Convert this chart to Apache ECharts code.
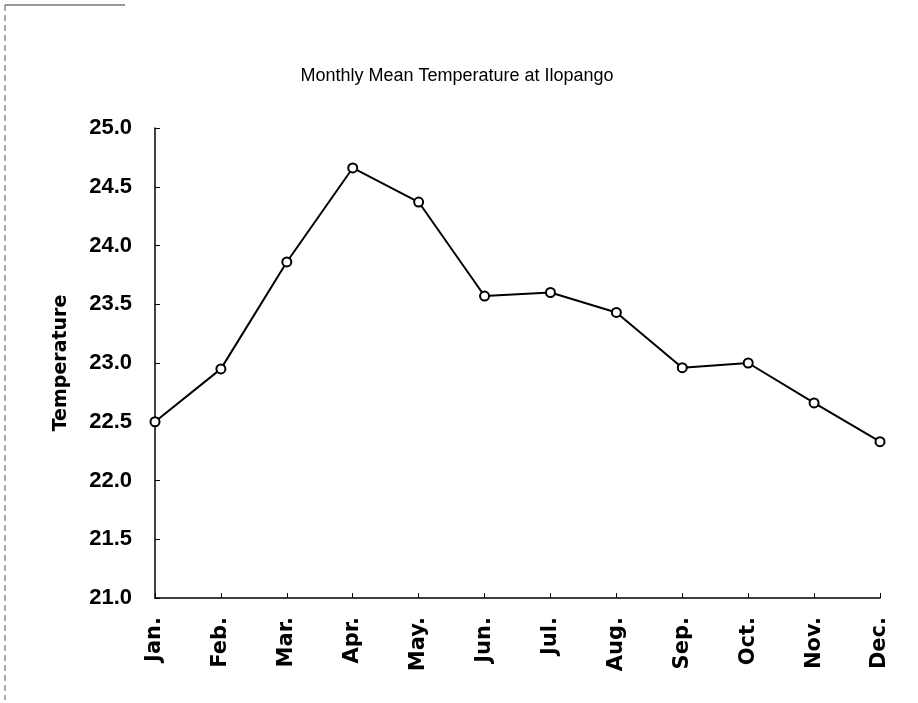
<!DOCTYPE html>
<html>
<head>
  <meta charset="utf-8">
  <title>Monthly Mean Temperature at Ilopango</title>
  <script src="https://cdn.jsdelivr.net/npm/echarts@6/dist/echarts.min.js"></script>
  <style>
    html, body { margin: 0; padding: 0; background: #fff; }
    #chart { width: 918px; height: 703px; }
  </style>
</head>
<body>
<div id="chart"></div>
<script>
  // data
  var months = ['Jan.', 'Feb.', 'Mar.', 'Apr.', 'May.', 'Jun.', 'Jul.', 'Aug.', 'Sep.', 'Oct.', 'Nov.', 'Dec.'];
  var temps = [22.5, 22.95, 23.86, 24.66, 24.37, 23.57, 23.6, 23.43, 22.96, 23.0, 22.66, 22.33];

  var myChart = echarts.init(document.getElementById('chart'));
  var font = 'Liberation Sans, Arial, sans-serif';
  var wide = 'DejaVu Sans, sans-serif';

  var option = {
    backgroundColor: '#fff',
    animation: false,
    title: {
      text: 'Monthly Mean Temperature at Ilopango',
      left: 452,
      textAlign: 'center',
      top: 62,
      textStyle: { fontFamily: font, fontSize: 18, fontWeight: 'normal', color: '#000' }
    },
    // scan border leftovers at top-left
    graphic: [
      { type: 'line', shape: { x1: 5, y1: 5, x2: 125, y2: 5 }, style: { stroke: '#333', lineWidth: 1 } },
      { type: 'line', shape: { x1: 5, y1: 5, x2: 5, y2: 700 }, style: { stroke: '#555', lineWidth: 1, lineDash: [6, 4] } }
    ],
    grid: { left: 155, right: 38, top: 128, bottom: 105, containLabel: false },
    xAxis: {
      type: 'category',
      data: months,
      boundaryGap: false,
      axisLine: { lineStyle: { color: '#000', width: 1.5 } },
      axisTick: { inside: true, length: 5, alignWithLabel: true, lineStyle: { color: '#000' } },
      axisLabel: {
        rotate: 90, margin: 19, interval: 0,
        fontFamily: wide, fontSize: 21, fontWeight: 'bold', color: '#000'
      },
      splitLine: { show: false }
    },
    yAxis: {
      type: 'value',
      min: 21, max: 25, interval: 0.5,
      name: 'Temperature',
      nameLocation: 'middle',
      nameGap: 84,
      nameTextStyle: { fontFamily: wide, fontSize: 19, fontWeight: 'bold', color: '#000' },
      axisLine: { show: true, lineStyle: { color: '#000', width: 1.5 } },
      axisTick: { show: true, inside: true, length: 5, lineStyle: { color: '#000' } },
      axisLabel: {
        margin: 23,
        formatter: function (v) { return v.toFixed(1); },
        fontFamily: font, fontSize: 22, fontWeight: 'bold', color: '#000'
      },
      splitLine: { show: false }
    },
    series: [{
      type: 'line',
      data: temps,
      symbol: 'emptyCircle',
      symbolSize: 9,
      lineStyle: { color: '#000', width: 2 },
      itemStyle: { color: '#000', borderWidth: 1.5 }
    }]
  };

  myChart.setOption(option);
  window.onresize = function () { myChart.resize(); };
</script>
</body>
</html>
